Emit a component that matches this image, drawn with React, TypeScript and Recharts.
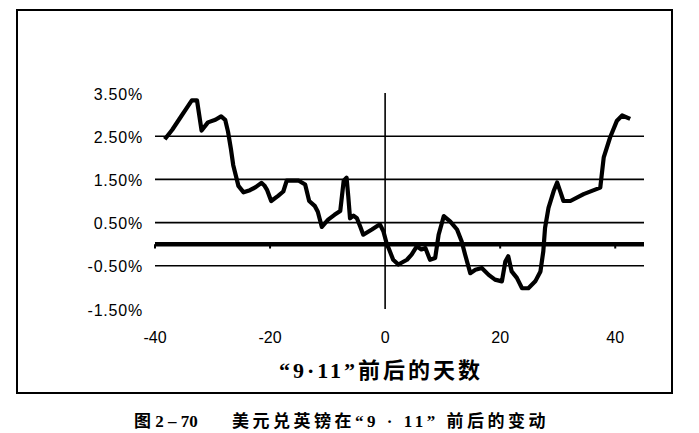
import React from "react";
import {
  LineChart,
  Line,
  XAxis,
  YAxis,
  ReferenceLine,
} from "recharts";

// days relative to 9/11 and the GBP/USD change (%)
const days = [
  -38.3, -37, -35.5, -34.5, -33.6, -32.7, -31.9, -30.8, -29.5, -28.5, -27.8,
  -27.3, -26.8, -26.4, -25.5, -24.6, -23.5, -22.5, -21.5, -21, -20.5, -19.8,
  -18.6, -17.7, -17.1, -15, -13.9, -13.2, -12.2, -11.7, -11, -9.9, -8.8, -7.8,
  -7.2, -6.7, -6.4, -6.1, -5.5, -4.9, -4.3, -3.8, -2.3, -0.9, -0.3, 0.3, 0.6,
  1.4, 2.3, 3.8, 4.6, 5.5, 6.3, 7, 7.8, 8.7, 9.3, 10.2, 11.3, 12.5, 13.3, 13.9,
  14.8, 15.7, 16.8, 18, 19.1, 20.3, 20.9, 21.4, 22, 22.9, 23.8, 24.9, 26.1, 27,
  27.5, 27.8, 28.4, 29.3, 29.9, 30.5, 31, 32.2, 34.5, 37.4, 38, 39.1, 40.3,
  41.2, 42.6,
];
const changes = [
  2.43, 2.65, 2.95, 3.15, 3.33, 3.33, 2.63, 2.82, 2.88, 2.96, 2.88, 2.6, 2.2,
  1.83, 1.35, 1.2, 1.25, 1.32, 1.42, 1.36, 1.25, 1.0, 1.12, 1.22, 1.47, 1.47,
  1.38, 1.0, 0.88, 0.75, 0.4, 0.57, 0.68, 0.77, 1.47, 1.54, 1.1, 0.6, 0.66,
  0.6, 0.4, 0.22, 0.34, 0.46, 0.3, 0.0, -0.09, -0.36, -0.47, -0.36, -0.24,
  -0.05, -0.12, -0.09, -0.36, -0.32, 0.22, 0.65, 0.53, 0.34, 0.07, -0.24,
  -0.67, -0.59, -0.55, -0.71, -0.82, -0.86, -0.4, -0.28, -0.63, -0.78, -1.02,
  -1.02, -0.86, -0.63, -0.16, 0.38, 0.84, 1.23, 1.43, 1.2, 1.0, 1.0, 1.16,
  1.31, 2.01, 2.47, 2.86, 2.98, 2.9,
];

const xTicks = [-40, -20, 0, 20, 40];
const yTicks = [3.5, 2.5, 1.5, 0.5, -0.5, -1.5];
const gridLevels = [2.5, 1.5, 0.5, -0.5];
const zeroTicks = [-40, -20, 20, 40];

const axisTitle = "“9·11”前后的天数";
const captionNo = "图 2 – 70";
const captionText = "美元兑英镑在“9 · 11” 前后的变动";

const data = days.map((d, i) => ({ day: d, change: changes[i] }));

const sans = "'Liberation Sans', Arial, sans-serif";
const mixed = "'Liberation Serif', 'Noto Sans CJK SC', serif";

export default function App() {
  return (
    <div
      style={{
        position: "absolute",
        left: 0,
        top: 0,
        width: 699,
        height: 433,
        background: "#fff",
      }}
    >
      {/* outer chart frame */}
      <div
        style={{
          position: "absolute",
          left: 16,
          top: 9,
          width: 653,
          height: 381,
          border: "2px solid #000",
        }}
      />

      <div style={{ position: "absolute", left: 0, top: 0 }}>
        <LineChart
          width={699}
          height={433}
          data={data}
          margin={{ top: 93, right: 55, bottom: 94, left: 95 }}
        >
          <XAxis
            type="number"
            dataKey="day"
            domain={[-40, 45]}
            ticks={xTicks}
            axisLine={false}
            tickLine={false}
            tickMargin={17}
            height={30}
            tick={{ fontSize: 16, fill: "#000", fontFamily: sans }}
          />
          <YAxis
            type="number"
            domain={[-1.5, 3.5]}
            ticks={yTicks}
            axisLine={false}
            tickLine={false}
            width={60}
            tickMargin={6}
            tickFormatter={(v: number) => `${v.toFixed(2)}%`}
            tick={{
              fontSize: 16,
              fill: "#000",
              fontFamily: sans,
              letterSpacing: 0.8,
              dy: 1,
            }}
          />
          {gridLevels.map((g) => (
            <ReferenceLine key={g} y={g} stroke="#000" strokeWidth={1.6} />
          ))}
          <ReferenceLine y={0} stroke="#000" strokeWidth={4.5} />
          {zeroTicks.map((t) => (
            <ReferenceLine
              key={t}
              segment={[
                { x: t, y: 0 },
                { x: t, y: -0.1 },
              ]}
              stroke="#000"
              strokeWidth={2}
            />
          ))}
          <ReferenceLine x={0} stroke="#000" strokeWidth={1.6} />
          <Line
            type="linear"
            dataKey="change"
            stroke="#000"
            strokeWidth={4.2}
            strokeLinejoin="round"
            dot={false}
            isAnimationActive={false}
          />
        </LineChart>
      </div>

      <div
        style={{
          position: "absolute",
          left: 0,
          width: 762,
          top: 352,
          textAlign: "center",
          fontFamily: mixed,
          fontWeight: 700,
          fontSize: 22,
          color: "#000",
          letterSpacing: 3,
        }}
      >
        {axisTitle}
      </div>

      <div
        style={{
          position: "absolute",
          left: 134,
          top: 407,
          fontFamily: mixed,
          fontWeight: 700,
          fontSize: 17,
          color: "#000",
          whiteSpace: "pre",
        }}
      >
        {captionNo}
      </div>
      <div
        style={{
          position: "absolute",
          left: 232,
          top: 407,
          fontFamily: mixed,
          fontWeight: 700,
          fontSize: 17,
          color: "#000",
          whiteSpace: "pre",
          letterSpacing: 3.5,
        }}
      >
        {captionText}
      </div>
    </div>
  );
}
